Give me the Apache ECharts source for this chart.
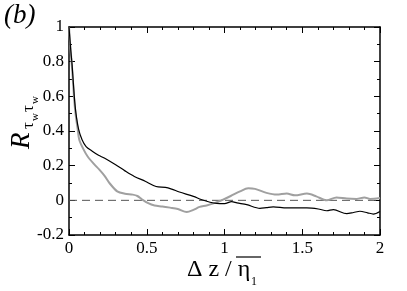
<!DOCTYPE html>
<html><head><meta charset="utf-8">
<script src="https://cdn.jsdelivr.net/npm/echarts@6/dist/echarts.min.js"></script>
<style>html,body{margin:0;padding:0;background:#fff}#c{width:407px;height:291px}</style>
</head><body><div id="c"></div>
<script>
const blackX = [0,0.01,0.02,0.034,0.045,0.062,0.084,0.11,0.152,0.19,0.227,0.30,0.36,0.42,0.49,0.56,0.62,0.66,0.71,0.80,0.85,0.907,0.95,1.0,1.046,1.08,1.143,1.228,1.27,1.314,1.40,1.529,1.603,1.657,1.70,1.786,1.83,1.871,1.92,1.957,2.0];
const blackY = [1.0,0.88,0.78,0.6,0.5,0.41,0.35,0.31,0.282,0.26,0.244,0.205,0.17,0.138,0.11,0.08,0.075,0.065,0.048,0.023,0.005,-0.011,-0.018,-0.019,-0.008,-0.015,-0.025,-0.046,-0.042,-0.038,-0.044,-0.044,-0.05,-0.06,-0.054,-0.077,-0.07,-0.063,-0.072,-0.079,-0.064];
const grayX = [0,0.01,0.02,0.032,0.042,0.056,0.066,0.09,0.12,0.16,0.195,0.23,0.26,0.31,0.36,0.41,0.44,0.47,0.506,0.55,0.60,0.65,0.70,0.757,0.80,0.84,0.885,0.94,0.99,1.04,1.10,1.153,1.196,1.27,1.336,1.40,1.453,1.53,1.59,1.657,1.72,1.786,1.85,1.90,1.936,2.0];
const grayY = [1.0,0.87,0.76,0.6,0.5,0.41,0.35,0.3,0.253,0.21,0.177,0.14,0.10,0.052,0.038,0.033,0.025,0.005,-0.015,-0.03,-0.035,-0.042,-0.05,-0.067,-0.055,-0.038,-0.03,-0.015,0.004,0.025,0.052,0.069,0.066,0.043,0.033,0.039,0.029,0.039,0.023,0.0,0.017,0.01,0.008,0.017,0.008,0.013];
const zeroX = [0, 2];
const zeroY = [0, 0];
const xTicks = ['0','0.5','1','1.5','2'];
const yTicks = ['-0.2','0','0.2','0.4','0.6','0.8','1'];

const zip = (a, b) => a.map((v, i) => [v, b[i]]);
const FONT = 'Liberation Serif';

function axisBase(pos, isX, labels) {
  const o = {
    type: 'value', position: pos,
    axisLine: { show: true, onZero: false, lineStyle: { color: '#000', width: 1.5 } },
    axisTick: { show: true, inside: true, length: 6, lineStyle: { color: '#000', width: 1 } },
    minorTick: { show: true, splitNumber: isX ? 5 : 2, length: 3, lineStyle: { color: '#000', width: 1 } },
    splitLine: { show: false },
    axisLabel: { show: labels, color: '#000', fontFamily: FONT, fontSize: 17, margin: 5,
      formatter: v => { const s = isX ? xTicks : yTicks; const t = String(Math.round(v*10)/10); return s.includes(t) ? t : ''; } }
  };
  if (isX) { o.min = 0; o.max = 2; o.interval = 0.5; }
  else { o.min = -0.2; o.max = 1; o.interval = 0.2; }
  return o;
}

const chart = echarts.init(document.getElementById('c'), null, { renderer: 'canvas' });
chart.setOption({
  animation: false,
  textStyle: { fontFamily: FONT },
  grid: { left: 69, right: 27, top: 27, bottom: 56 },
  xAxis: [axisBase('bottom', true, true), axisBase('top', true, false)],
  yAxis: [axisBase('left', false, true), axisBase('right', false, false)],
  series: [
    { type: 'line', data: zip(zeroX, zeroY), showSymbol: false, lineStyle: { color: '#555', width: 1, type: [8, 5] }, z: 1 },
    { type: 'line', data: zip(grayX, grayY), showSymbol: false, smooth: 0.3, lineStyle: { color: '#a0a0a0', width: 2 }, z: 2 },
    { type: 'line', data: zip(blackX, blackY), showSymbol: false, smooth: 0.3, lineStyle: { color: '#000', width: 1.2 }, z: 3 }
  ],
  graphic: [
    { type: 'text', left: 4, top: 2, style: { text: '(b)', font: 'italic 27px "Liberation Serif"', fill: '#000' } },
    { type: 'group', x: 35, y: 149, rotation: Math.PI / 2, children: [
      { type: 'text', x: 0, y: 0, style: { text: 'R', font: 'italic 27px "Liberation Serif"', fill: '#000', verticalAlign: 'bottom' } },
      { type: 'text', x: 20, y: 2, style: { text: 'τ', font: '17px "Liberation Serif"', fill: '#000', verticalAlign: 'bottom' } },
      { type: 'text', x: 28, y: 6, style: { text: 'w', font: '11px "Liberation Serif"', fill: '#000', verticalAlign: 'bottom' } },
      { type: 'text', x: 37, y: 2, style: { text: 'τ', font: '17px "Liberation Serif"', fill: '#000', verticalAlign: 'bottom' } },
      { type: 'text', x: 45, y: 6, style: { text: 'w', font: '11px "Liberation Serif"', fill: '#000', verticalAlign: 'bottom' } }
    ] },
    { type: 'text', x: 187, y: 282, style: { text: 'Δ z / η', font: '24px "Liberation Serif"', fill: '#000', verticalAlign: 'bottom' } },
    { type: 'text', x: 251, y: 288, style: { text: '1', font: '12px "Liberation Serif"', fill: '#000', verticalAlign: 'bottom' } },
    { type: 'line', shape: { x1: 236, y1: 257, x2: 261, y2: 257 }, style: { stroke: '#000', lineWidth: 1.2 } }
  ]
});
</script></body></html>
